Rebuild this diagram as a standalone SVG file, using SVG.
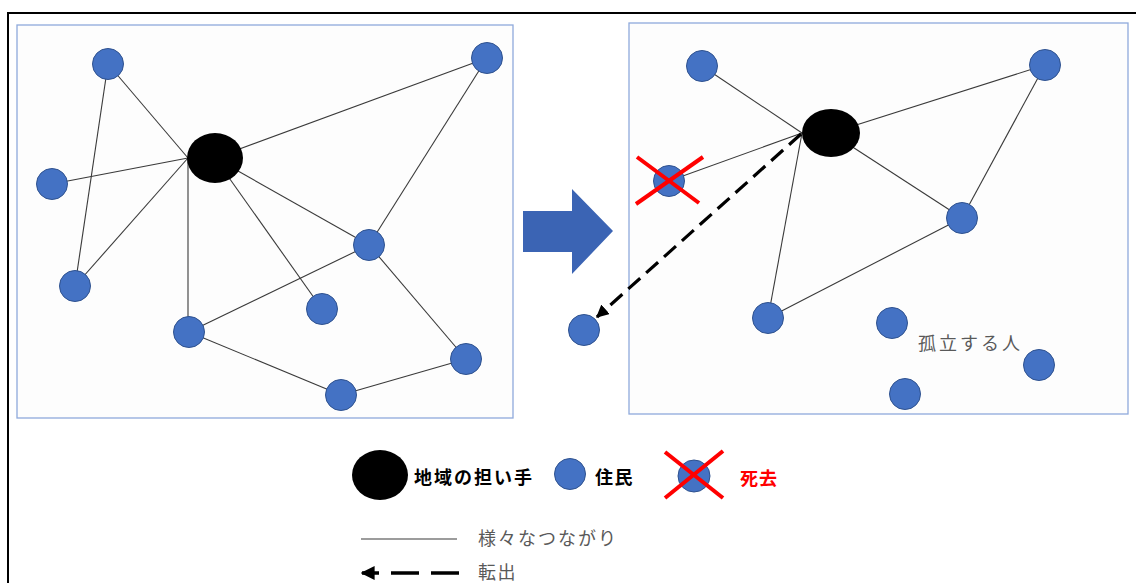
<svg xmlns="http://www.w3.org/2000/svg" width="1136" height="583" viewBox="0 0 1136 583">
<style>
.panel{fill:#fdfdfd;stroke:#8faadc;stroke-width:1.3}
.res{fill:#4472c4;stroke:#2f528f;stroke-width:1}
.hub{fill:#000}
.e{stroke:#3a3a3a;stroke-width:1.1;fill:none}
.mv{stroke:#000;stroke-width:3.2;stroke-dasharray:16 8;fill:none}
.x{stroke:#ff0000;stroke-width:4;stroke-linecap:butt}
.jp{font-family:"Noto Sans CJK JP","Noto Sans",sans-serif;font-size:18px;dominant-baseline:central}
.b{font-weight:bold;fill:#000}
.g{fill:#595959}
</style>
<defs>
<marker id="ah" viewBox="0 0 10 10" refX="9" refY="5" markerWidth="4" markerHeight="4" orient="auto" markerUnits="strokeWidth">
<path d="M0,0 L10,5 L0,10 z" fill="#000"/>
</marker>
</defs>
<rect x="0" y="0" width="1136" height="583" fill="#fff"/>
<rect x="8" y="13" width="1140" height="590" fill="none" stroke="#000" stroke-width="2"/>
<rect class="panel" x="17" y="25" width="496" height="393"/>
<rect class="panel" x="629" y="23" width="499" height="391"/>

<g id="connectors">
<!-- left -->
<line class="e" x1="108" y1="64" x2="188" y2="158"/>
<line class="e" x1="108" y1="64" x2="75" y2="286"/>
<line class="e" x1="52" y1="184" x2="188" y2="158"/>
<line class="e" x1="75" y1="286" x2="188" y2="158"/>
<line class="e" x1="188" y1="158" x2="188" y2="332" stroke="#000"/>
<line class="e" x1="215" y1="158" x2="487" y2="58"/>
<line class="e" x1="215" y1="158" x2="369" y2="245"/>
<line class="e" x1="215" y1="158" x2="322" y2="309"/>
<line class="e" x1="487" y1="58" x2="369" y2="245"/>
<line class="e" x1="369" y1="245" x2="189" y2="332"/>
<line class="e" x1="369" y1="245" x2="466" y2="359"/>
<line class="e" x1="189" y1="332" x2="341" y2="395"/>
<line class="e" x1="341" y1="395" x2="466" y2="359"/>
<!-- right -->
<line class="e" x1="702" y1="66" x2="802" y2="133"/>
<line class="e" x1="669" y1="181" x2="802" y2="133"/>
<line class="e" x1="802" y1="133" x2="768" y2="318"/>
<line class="e" x1="831" y1="133" x2="1045" y2="65"/>
<line class="e" x1="831" y1="133" x2="962" y2="218"/>
<line class="e" x1="1045" y1="65" x2="962" y2="218"/>
<line class="e" x1="768" y1="318" x2="962" y2="218"/>
<line class="mv" x1="801" y1="134" x2="597" y2="317" marker-end="url(#ah)"/>
</g>

<g id="big-arrow">
<polygon points="523,211 572,211 572,189 613,231 572,274 572,252 523,252" fill="#3b64b4"/>
</g>

<g id="left-network">
<ellipse id="hub-L" class="hub" cx="215" cy="158" rx="28" ry="25"/>
<circle id="L1" class="res" cx="108" cy="64" r="15.5"/>
<circle id="L2" class="res" cx="487" cy="58" r="15.5"/>
<circle id="L3" class="res" cx="52" cy="184" r="15.5"/>
<circle id="L4" class="res" cx="75" cy="286" r="15.5"/>
<circle id="L5" class="res" cx="369" cy="245" r="15.5"/>
<circle id="L6" class="res" cx="322" cy="309" r="15.5"/>
<circle id="L7" class="res" cx="189" cy="332" r="15.5"/>
<circle id="L8" class="res" cx="466" cy="359" r="15.5"/>
<circle id="L9" class="res" cx="341" cy="395" r="15.5"/>
</g>

<g id="right-network">
<ellipse id="hub-R" class="hub" cx="831" cy="133" rx="29" ry="24"/>
<circle id="R1" class="res" cx="702" cy="66" r="15.5"/>
<circle id="R2" class="res" cx="1045" cy="65" r="15.5"/>
<g id="R-dead">
<circle class="res" cx="669" cy="181" r="15.5"/>
<line class="x" x1="637" y1="157" x2="699" y2="203"/>
<line class="x" x1="703" y1="157" x2="636" y2="204"/>
</g>
<circle id="R3" class="res" cx="962" cy="218" r="15.5"/>
<circle id="R4" class="res" cx="768" cy="318" r="15.5"/>
<circle id="R5" class="res" cx="892" cy="323" r="15.5"/>
<circle id="R6" class="res" cx="1039" cy="365" r="15.5"/>
<circle id="R7" class="res" cx="905" cy="394" r="15.5"/>
<circle id="R-out" class="res" cx="584" cy="330" r="15.5"/>
<text class="jp g" x="918" y="342" letter-spacing="3">孤立する人</text>
</g>

<g id="legend">
<ellipse class="hub" cx="380" cy="475" rx="28" ry="25"/>
<text class="jp b" x="414" y="476" letter-spacing="2">地域の担い手</text>
<circle class="res" cx="570" cy="474" r="15.5"/>
<text class="jp b" x="595" y="476" letter-spacing="1.5">住民</text>
<circle class="res" cx="694" cy="476" r="16"/>
<line class="x" x1="665" y1="452" x2="723" y2="498"/>
<line class="x" x1="723" y1="451" x2="665" y2="498"/>
<text class="jp b" x="740" y="477" style="fill:#ff0000" letter-spacing="1">死去</text>
<line x1="361" y1="539" x2="457" y2="539" stroke="#3a3a3a" stroke-width="1.1"/>
<text class="jp g" x="478" y="537" letter-spacing="2">様々なつながり</text>
<line x1="459" y1="573" x2="362" y2="573" stroke="#000" stroke-width="3.5" stroke-dasharray="28 12" marker-end="url(#ah)"/>
<text class="jp g" x="478" y="571" letter-spacing="1.5">転出</text>
</g>
</svg>
